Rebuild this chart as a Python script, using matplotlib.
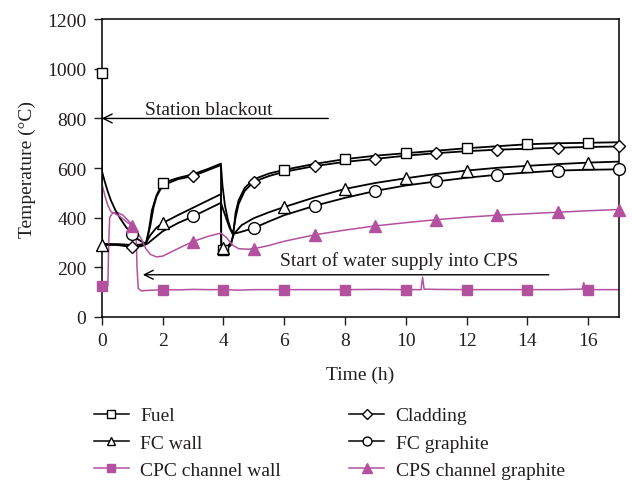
import matplotlib
matplotlib.use("Agg")
import matplotlib.pyplot as plt

plt.rcParams["font.family"] = ["Liberation Serif", "DejaVu Serif"]
plt.rcParams["text.color"] = "#231f20"
plt.rcParams["axes.labelcolor"] = "#231f20"
plt.rcParams["xtick.color"] = "#231f20"
plt.rcParams["ytick.color"] = "#231f20"

MAGENTA = "#b4519f"
FS = 14

# ---- data ----
fuel_t = [0, 0.01, 0.5, 1.0, 1.3, 1.45, 1.55, 1.65, 1.8, 2.0, 2.5, 3.0, 3.5, 3.92,
          3.93, 4.1, 4.25, 4.32, 4.4, 4.5, 4.7, 5.0, 5.5, 6, 7, 8, 9, 10, 11, 12, 13, 14, 15, 16, 17]
fuel_v = [985, 295, 293, 290, 290, 295, 350, 430, 490, 540, 560, 575, 597, 618,
          268, 272, 290, 330, 420, 470, 520, 555, 578, 593, 617, 636, 650, 660, 670, 680, 688, 696, 700, 702, 704]
fuel_mt = [0, 2, 4, 6, 8, 10, 12, 14, 16]
fuel_mv = [985, 539, 268, 593, 636, 660, 680, 696, 702]

clad_t = [0, 0.5, 1.0, 1.3, 1.45, 1.6, 1.7, 1.8, 2.0, 2.5, 3.0, 3.5, 3.92,
          3.97, 4.05, 4.15, 4.25, 4.32, 4.4, 4.5, 4.7, 5.0, 5.5, 6, 7, 8, 9, 10, 11, 12, 13, 14, 15, 16, 17]
clad_v = [292, 290, 282, 285, 292, 370, 440, 485, 530, 555, 568, 592, 612,
          530, 450, 390, 350, 340, 400, 455, 508, 545, 568, 585, 608, 625, 637, 650, 660, 668, 674, 678, 682, 685, 687]
clad_mt = [1, 3, 5, 7, 9, 11, 13, 15, 17]
clad_mv = [282, 568, 545, 608, 637, 660, 674, 682, 687]

wall_t = [0, 0.5, 1.0, 1.3, 1.45, 1.6, 1.8, 2.0, 2.5, 3.0, 3.5, 3.92,
          3.93, 4.1, 4.25, 4.35, 4.6, 5.0, 5.5, 6, 7, 8, 9, 10, 11, 12, 13, 14, 15, 16, 17]
wall_v = [290, 292, 290, 292, 298, 330, 360, 378, 410, 440, 470, 495,
          275, 280, 300, 335, 370, 398, 422, 443, 482, 516, 540, 559, 576, 590, 601, 609, 616, 622, 626]
wall_mt = [0, 2, 4, 6, 8, 10, 12, 14, 16]
wall_mv = [290, 378, 278, 443, 516, 559, 590, 609, 622]

graph_t = [0, 0.1, 0.2, 0.3, 0.45, 0.6, 0.8, 1.0, 1.2, 1.4, 1.5, 1.7, 2.0, 2.5, 3.0, 3.5, 3.92,
           4.0, 4.1, 4.2, 4.3, 4.5, 5.0, 5.5, 6, 7, 8, 9, 10, 11, 12, 13, 14, 15, 16, 17]
graph_v = [590, 545, 505, 470, 430, 398, 362, 333, 312, 298, 295, 315, 345, 378, 405, 435, 460,
           430, 395, 360, 335, 340, 358, 385, 410, 448, 480, 508, 530, 546, 561, 573, 582, 590, 593, 595]
graph_mt = [1, 3, 5, 7, 9, 11, 13, 15, 17]
graph_mv = [333, 405, 358, 448, 508, 546, 573, 590, 595]

cpc_t = [0, 0.2, 0.23, 0.26, 0.35, 0.5, 0.7, 0.9, 1.05, 1.13, 1.16, 1.2, 1.3, 1.5, 2, 2.5, 3, 3.5,
         4, 4.5, 5, 6, 7, 8, 9, 10, 10.5, 10.55, 10.6, 11, 12, 13, 14, 15, 15.8, 15.85, 15.9, 16, 17]
cpc_v = [125, 125, 300, 400, 418, 422, 410, 385, 360, 330, 200, 115, 105, 107, 110, 109, 111, 110,
         110, 108, 110, 110, 110, 110, 111, 110, 110, 160, 112, 111, 110, 110, 110, 110, 112, 138, 112, 110, 110]
cpc_mt = [0, 2, 4, 6, 8, 10, 12, 14, 16]
cpc_mv = [125, 110, 110, 110, 110, 110, 110, 110, 110]

cps_t = [0, 0.1, 0.2, 0.3, 0.45, 0.6, 0.8, 1.0, 1.15, 1.3, 1.45, 1.6, 1.8, 2.0, 2.5, 3.0, 3.5, 3.92,
         4.1, 4.3, 4.5, 4.8, 5.0, 5.5, 6, 7, 8, 9, 10, 11, 12, 13, 14, 15, 16, 17]
cps_v = [540, 490, 450, 425, 415, 405, 385, 367, 345, 315, 275, 252, 242, 245, 275, 304, 325, 338,
         320, 290, 275, 273, 275, 288, 305, 331, 350, 367, 380, 392, 402, 410, 416, 422, 428, 433]
cps_mt = [1, 3, 5, 7, 9, 11, 13, 15, 17]
cps_mv = [367, 304, 275, 331, 367, 392, 410, 422, 433]

series = [
    ("Fuel", fuel_t, fuel_v, fuel_mt, fuel_mv, "k", "s", "white", 7.5),
    ("FC wall", wall_t, wall_v, wall_mt, wall_mv, "k", "^", "white", 8.5),
    ("CPC channel wall", cpc_t, cpc_v, cpc_mt, cpc_mv, MAGENTA, "s", MAGENTA, 7.5),
    ("Cladding", clad_t, clad_v, clad_mt, clad_mv, "k", "D", "white", 6.5),
    ("FC graphite", graph_t, graph_v, graph_mt, graph_mv, "k", "o", "white", 8.5),
    ("CPS channel graphite", cps_t, cps_v, cps_mt, cps_mv, MAGENTA, "^", MAGENTA, 9),
]

fig = plt.figure(figsize=(6.32, 4.81), dpi=100)
ax = fig.add_axes([0.161, 0.339, 0.818, 0.619])

handles = []
for name, t, v, mt, mv, col, mk, fc, ms in series:
    lw = 1.3 if col == "k" else 1.1
    ax.plot(t, v, color=col, lw=lw, zorder=2)
    ax.plot(mt, mv, ls="none", marker=mk, ms=ms, mfc=fc, mec=col, mew=1.0, zorder=3, clip_on=False)
    h, = ax.plot([], [], color=col, lw=1.1, marker=mk, ms=ms * 0.75, mfc=fc, mec=col, mew=1.0)
    h.set_label(name)
    handles.append(h)

ax.set_xlim(0, 17)
ax.set_ylim(0, 1200)
ax.set_xticks(range(0, 17, 2))
ax.set_yticks(range(0, 1201, 200))
ax.tick_params(direction="out", length=6, width=1, labelsize=FS, pad=5)
for s in ax.spines.values():
    s.set_linewidth(1.1)
ax.set_xlabel("Time (h)", fontsize=FS, labelpad=12)
ax.set_ylabel("Temperature (\u00b0C)", fontsize=FS, labelpad=8)

# annotations
arrow = dict(arrowstyle="->", lw=1.0, color="k", mutation_scale=16, shrinkA=0, shrinkB=0)
ax.annotate("", xy=(0, 800), xytext=(7.45, 800), arrowprops=arrow)
ax.text(1.43, 818, "Station blackout", fontsize=FS, va="baseline", ha="left")
ax.annotate("", xy=(1.35, 170), xytext=(14.7, 170), arrowprops=arrow)
ax.text(5.85, 208, "Start of water supply into CPS", fontsize=FS, va="baseline", ha="left")

fig.legend(handles=handles, ncol=2, loc="upper left", bbox_to_anchor=(0.148, 0.152),
           frameon=False, fontsize=FS, handlelength=1.8, handletextpad=0.6,
           columnspacing=3.5, labelspacing=0.5, borderpad=0, borderaxespad=0)

fig.savefig("out.png", dpi=100)
